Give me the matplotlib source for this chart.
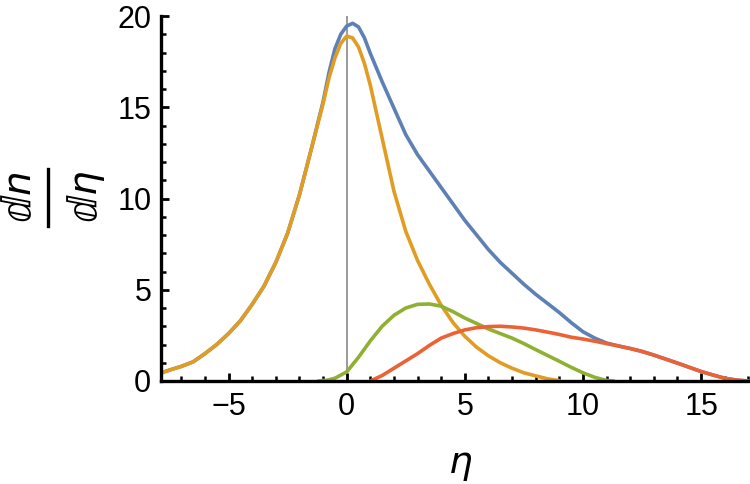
import matplotlib
matplotlib.use("Agg")
import matplotlib.pyplot as plt
from matplotlib.lines import Line2D
from matplotlib.ticker import MultipleLocator

# values (eta, dn/deta)
eta_total = [-7.9, -7.5, -7.0, -6.5, -6.0, -5.5, -5.0, -4.5, -4.0, -3.5, -3.0, -2.5, -2.0,
             -1.5, -1.0, -0.75, -0.5, -0.25, 0.0, 0.25, 0.5, 0.75, 1.0, 1.5, 2.0, 2.5, 3.0,
             3.5, 4.0, 4.5, 5.0, 5.5, 6.0, 6.5, 7.0, 7.5, 8.0, 8.5, 9.0, 9.5, 10.0, 10.5,
             11.0, 11.5, 12.0, 12.5, 13.0, 13.5, 14.0, 14.5, 15.0, 15.5, 16.0, 16.5, 17.0]
dn_total = [0.42, 0.6, 0.8, 1.05, 1.5, 2.0, 2.6, 3.3, 4.2, 5.2, 6.5, 8.1, 10.2,
            12.7, 15.3, 16.9, 18.2, 19.0, 19.45, 19.6, 19.4, 18.8, 17.95, 16.4, 14.95, 13.5, 12.4,
            11.5, 10.6, 9.7, 8.8, 8.0, 7.2, 6.5, 5.9, 5.3, 4.75, 4.25, 3.75, 3.2, 2.7, 2.35,
            2.08, 1.92, 1.78, 1.62, 1.42, 1.2, 0.98, 0.75, 0.52, 0.33, 0.15, 0.05, 0.0]

eta_a = [-7.9, -7.5, -7.0, -6.5, -6.0, -5.5, -5.0, -4.5, -4.0, -3.5, -3.0, -2.5, -2.0,
         -1.5, -1.0, -0.75, -0.5, -0.25, 0.0, 0.25, 0.5, 0.75, 1.0, 1.5, 2.0, 2.5, 3.0,
         3.5, 4.0, 4.5, 5.0, 5.5, 6.0, 6.5, 7.0, 7.5, 8.0, 8.5, 9.0]
dn_a = [0.42, 0.6, 0.8, 1.05, 1.5, 2.0, 2.6, 3.3, 4.2, 5.2, 6.5, 8.1, 10.2,
        12.7, 15.2, 16.6, 17.7, 18.5, 18.9, 18.8, 18.3, 17.4, 16.2, 13.3, 10.4, 8.2, 6.6,
        5.3, 4.15, 3.2, 2.45, 1.85, 1.38, 1.0, 0.7, 0.45, 0.28, 0.12, 0.02]

eta_b = [-1.2, -0.8, -0.5, 0.0, 0.5, 1.0, 1.5, 2.0, 2.5, 3.0, 3.5, 4.0, 4.5, 5.0, 5.5,
         6.0, 6.5, 7.0, 7.5, 8.0, 8.5, 9.0, 9.5, 10.0, 10.5, 11.0, 11.3]
dn_b = [0.0, 0.05, 0.15, 0.5, 1.3, 2.2, 3.0, 3.6, 4.0, 4.2, 4.22, 4.1, 3.8, 3.45, 3.15,
        2.85, 2.6, 2.35, 2.05, 1.72, 1.4, 1.08, 0.75, 0.45, 0.2, 0.03, 0.0]

eta_c = [1.0, 1.5, 2.0, 2.5, 3.0, 3.5, 4.0, 4.5, 5.0, 5.5, 6.0, 6.5, 7.0, 7.5, 8.0, 8.5,
         9.0, 9.5, 10.0, 10.5, 11.0, 11.5, 12.0, 12.5, 13.0, 13.5, 14.0, 14.5, 15.0, 15.5,
         16.0, 16.5, 17.0]
dn_c = [0.0, 0.3, 0.7, 1.1, 1.5, 1.95, 2.35, 2.6, 2.8, 2.92, 2.98, 3.0, 2.96, 2.9, 2.8, 2.68,
        2.55, 2.4, 2.3, 2.18, 2.05, 1.92, 1.78, 1.62, 1.42, 1.2, 0.98, 0.75, 0.52, 0.33,
        0.15, 0.05, 0.0]

colors = ["#5E81B5", "#E19C24", "#8FB032", "#EB6235"]

plt.rcParams["font.family"] = ["Liberation Sans", "DejaVu Sans"]
plt.rcParams["mathtext.fontset"] = "dejavusans"

fig = plt.figure(figsize=(7.5, 4.84), dpi=100)
ax = fig.add_axes([161 / 750, 103 / 484, 589 / 750, 365 / 484])

ax.axvline(0, color="#808080", lw=1.1, zorder=1)
for xs, ys, c in [(eta_total, dn_total, colors[0]), (eta_a, dn_a, colors[1]),
                  (eta_b, dn_b, colors[2]), (eta_c, dn_c, colors[3])]:
    ax.plot(xs, ys, color=c, lw=2.6, solid_joinstyle="round", solid_capstyle="round", zorder=2)

ax.set_xlim(-7.86, 17.07)
ax.set_ylim(0, 20)

for s in ["top", "right"]:
    ax.spines[s].set_visible(False)
for s in ["left", "bottom"]:
    ax.spines[s].set_linewidth(2.4)
    ax.spines[s].set_zorder(3)

ax.xaxis.set_major_locator(MultipleLocator(5))
ax.xaxis.set_minor_locator(MultipleLocator(1))
ax.yaxis.set_major_locator(MultipleLocator(5))
ax.yaxis.set_minor_locator(MultipleLocator(1))
ax.tick_params(which="major", direction="in", length=5.5, width=2.0, labelsize=22, pad=7)
ax.tick_params(axis="x", which="major", pad=8)
ax.tick_params(which="minor", direction="in", length=3.3, width=1.8)

# rotated fraction dn/deta as the y label
fig.text(21 / 750, 1 - 197 / 484, r"$ⅆn$", rotation=90, ha="center", va="center", fontsize=28)
fig.text(86 / 750, 1 - 197 / 484, r"$ⅆ\eta$", rotation=90, ha="center", va="center", fontsize=28)
fig.add_artist(Line2D([48 / 750, 48 / 750], [1 - 169 / 484, 1 - 226 / 484],
                      transform=fig.transFigure, color="black", lw=2.4))
fig.text(460 / 750, 1 - 465 / 484, r"$\eta$", ha="center", va="center", fontsize=27)

fig.savefig("out.png", dpi=100)
